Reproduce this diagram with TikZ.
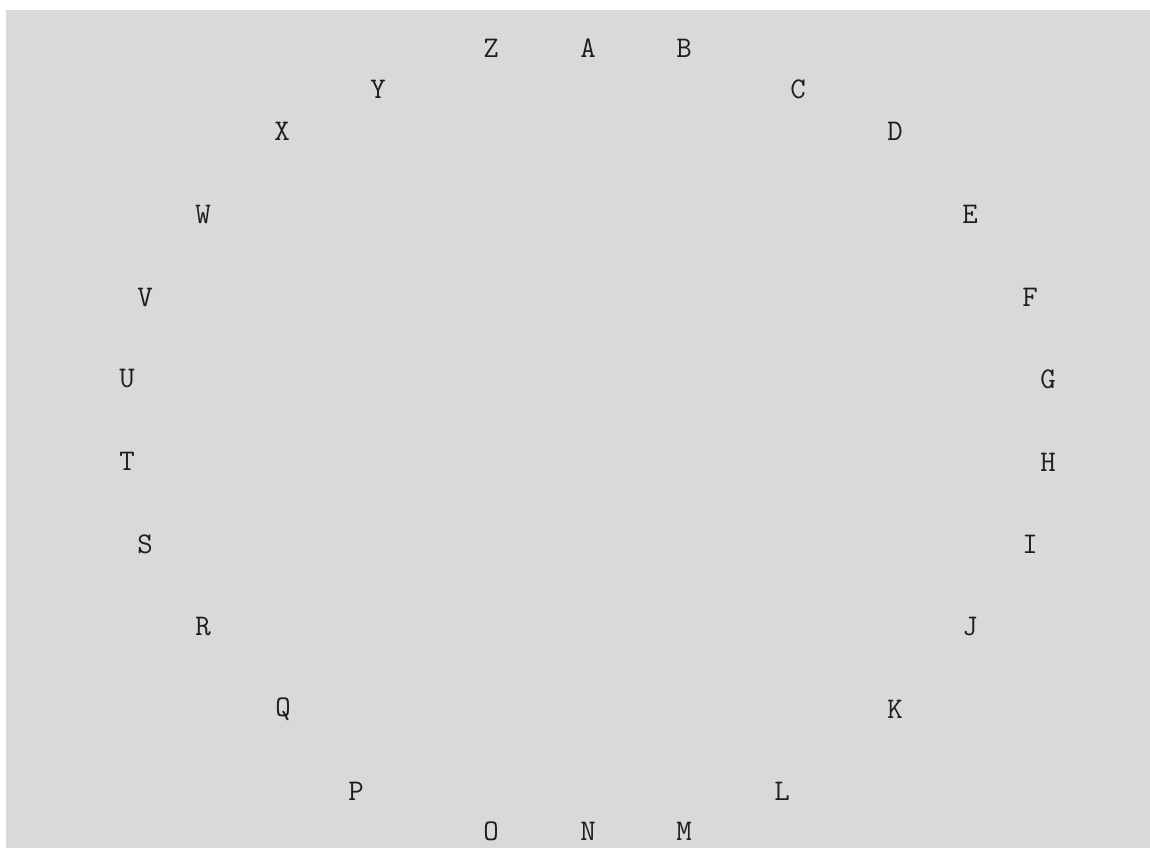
\documentclass[tikz,border=0pt]{standalone}
\definecolor{bg}{HTML}{D8D9DB}
\definecolor{ink}{HTML}{1E1E1E}
\begin{document}
\begin{tikzpicture}[x=1pt,y=-1pt,
  lbl/.style={inner sep=0pt,text=ink,font=\fontsize{30}{30}\selectfont\ttfamily}]
\useasboundingbox (0,0) rectangle (1150,848);
\fill[bg] (6,10) rectangle (1150,848);
\node[lbl] (A) at (588,48) {A};
\node[lbl] (B) at (684,48) {B};
\node[lbl] (C) at (798,89) {C};
\node[lbl] (D) at (895,131) {D};
\node[lbl] (E) at (970,214) {E};
\node[lbl] (F) at (1030,297) {F};
\node[lbl] (G) at (1048,379) {G};
\node[lbl] (H) at (1048,462) {H};
\node[lbl] (I) at (1030,544) {I};
\node[lbl] (J) at (970,627) {J};
\node[lbl] (K) at (895,709) {K};
\node[lbl] (L) at (782,791) {L};
\node[lbl] (M) at (684,831) {M};
\node[lbl] (N) at (588,831) {N};
\node[lbl] (O) at (491,831) {O};
\node[lbl] (P) at (356,791) {P};
\node[lbl] (Q) at (283,709) {Q};
\node[lbl] (R) at (203,627) {R};
\node[lbl] (S) at (145,544) {S};
\node[lbl] (T) at (127,461) {T};
\node[lbl] (U) at (127,379) {U};
\node[lbl] (V) at (145,297) {V};
\node[lbl] (W) at (203,214) {W};
\node[lbl] (X) at (282,131) {X};
\node[lbl] (Y) at (378,89) {Y};
\node[lbl] (Z) at (491,48) {Z};
\end{tikzpicture}
\end{document}
